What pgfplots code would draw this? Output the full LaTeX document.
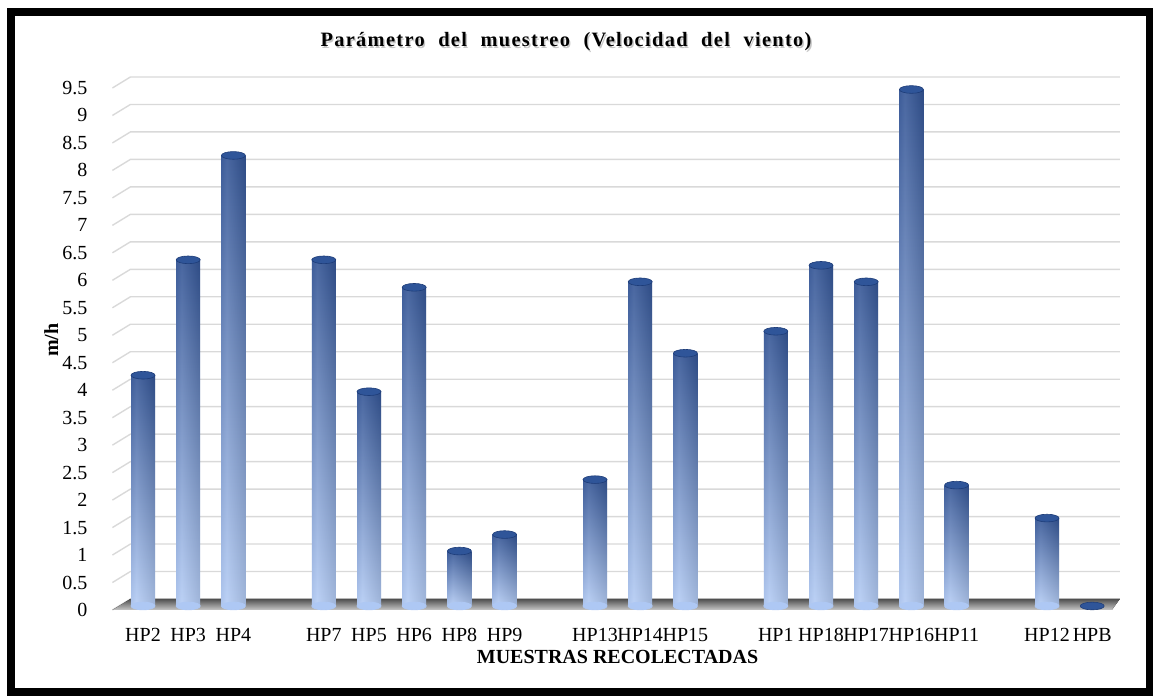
\documentclass[border=0pt]{standalone}
\usepackage{fontspec}
\setmainfont{Liberation Serif}
\usepackage{pgfplots}
\pgfplotsset{compat=1.18}
\usetikzlibrary{calc}

\definecolor{bartop}{HTML}{22468C}
\definecolor{barmid}{HTML}{4D78C2}
\definecolor{barbot}{HTML}{AEC8F4}
\definecolor{capcol}{HTML}{2F5599}
\definecolor{capedge}{HTML}{1D3C78}
\definecolor{gridc}{HTML}{D9D9D9}
\definecolor{floortop}{HTML}{505050}
\definecolor{floorbot}{HTML}{C8C8C8}

\pgfdeclarehorizontalshading{cyl}{100bp}{color(0bp)=(capedge); color(36bp)=(white); color(100bp)=(black)}

\pgfplotsset{
  cylbase/.style={only marks, mark=*, mark size=6pt, color=barbot,
      mark options={yscale=0.32}, yshift=2pt},
  cylbar/.style={ybar, bar width=12pt, bar shift=0pt, draw=none,
      top color=bartop, middle color=barmid, bottom color=barbot, yshift=2pt},
  cylhl/.style={ybar, bar width=12pt, bar shift=0pt, draw=none,
      shading=cyl, fill opacity=0.18, yshift=2pt},
  cylcap/.style={only marks, mark=*, mark size=6pt,
      mark options={yscale=0.32, fill=capcol, draw=capedge, line width=0.3pt}, yshift=2pt},
}
% una barra cilindrica: posicion, valor
\newcommand{\barra}[2]{%
  \addplot[cylbase] coordinates {(#1,0)};
  \addplot[cylbar] coordinates {(#1,#2)};
  \addplot[cylhl] coordinates {(#1,#2)};
  \addplot[cylcap] coordinates {(#1,#2)};
}

\begin{document}
\begin{tikzpicture}
\path[use as bounding box] (0,0) rectangle (576.5pt,348pt);
\begin{axis}[
    at={(60.2pt,43pt)}, anchor=south west,
    scale only axis, width=497.2pt, height=261pt,
    xmin=-0.5, xmax=21.5, ymin=0, ymax=9.5,
    clip=false,
    axis line style={draw=none},
    tick style={draw=none},
    xtick={0,1,2,4,5,6,7,8,10,11,12,14,15,16,17,18,20,21},
    xticklabels={HP2,HP3,HP4,HP7,HP5,HP6,HP8,HP9,HP13,HP14,HP15,HP1,HP18,HP17,HP16,HP11,HP12,HPB},
    ytick={0,0.5,...,9.5},
    xticklabel style={font=\fontsize{10}{12}\selectfont, yshift=-5.5pt},
    yticklabel style={font=\fontsize{10}{12}\selectfont, xshift=-13pt,
        /pgf/number format/fixed, /pgf/number format/precision=1,
        /pgf/number format/assume math mode=true},
    xlabel={\textbf{MUESTRAS RECOLECTADAS}},
    xlabel style={at={(axis description cs:0.5,0)}, anchor=center, yshift=-23.5pt,
        font=\fontsize{10}{12}\selectfont},
    ylabel={\textbf{m/h}},
    ylabel style={at={(axis description cs:-0.0695,0.517)}, anchor=center,
        font=\fontsize{10}{12}\selectfont},
]
% rejilla con perspectiva (pared del fondo)
\pgfplotsinvokeforeach{0,0.5,...,9.5}{
  \draw[gridc, line width=0.7pt] ($(axis cs:-0.5,#1)+(-4pt,0pt)$) -- ++(9pt,5.5pt)
      -- ($(axis cs:21.5,#1)+(2.5pt,5.5pt)$);
}
% suelo
\fill[top color=floortop, bottom color=floorbot]
  ($(axis cs:-0.5,0)+(-4pt,0pt)$) -- ($(axis cs:-0.5,0)+(5pt,5.5pt)$)
  -- ($(axis cs:21.5,0)+(2.5pt,5.5pt)$) -- ($(axis cs:21.5,0)+(-1.5pt,0pt)$) -- cycle;

\barra{0}{4.2}   % HP2
\barra{1}{6.3}   % HP3
\barra{2}{8.2}   % HP4
\barra{4}{6.3}   % HP7
\barra{5}{3.9}   % HP5
\barra{6}{5.8}   % HP6
\barra{7}{1.0}   % HP8
\barra{8}{1.3}   % HP9
\barra{10}{2.3}  % HP13
\barra{11}{5.9}  % HP14
\barra{12}{4.6}  % HP15
\barra{14}{5.0}  % HP1
\barra{15}{6.2}  % HP18
\barra{16}{5.9}  % HP17
\barra{17}{9.4}  % HP16
\barra{18}{2.2}  % HP11
\barra{20}{1.6}  % HP12
\addplot[cylcap] coordinates {(21,0)}; % HPB
\end{axis}

\node[text=gray!45, font=\fontsize{10.2}{12}\selectfont\bfseries\addfontfeature{LetterSpace=6.5}]
  at (283.7pt,326.3pt) {Parámetro\hspace{0.35em} del\hspace{0.35em} muestreo\hspace{0.35em} (Velocidad\hspace{0.35em} del\hspace{0.35em} viento)};
\node[font=\fontsize{10.2}{12}\selectfont\bfseries\addfontfeature{LetterSpace=6.5}]
  at (283pt,327pt) {Parámetro\hspace{0.35em} del\hspace{0.35em} muestreo\hspace{0.35em} (Velocidad\hspace{0.35em} del\hspace{0.35em} viento)};

\draw[line width=3.8pt] (5.5pt,2pt) rectangle (574.8pt,342pt);
\end{tikzpicture}
\end{document}
